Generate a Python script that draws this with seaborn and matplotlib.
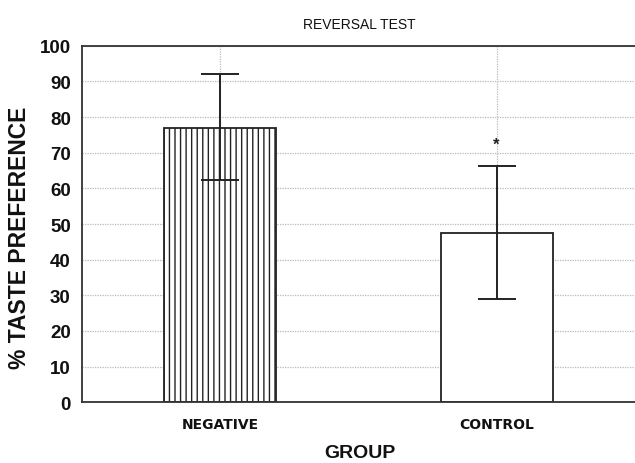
import matplotlib
matplotlib.use("Agg")
import matplotlib.pyplot as plt
import seaborn as sns
import pandas as pd

groups = ["NEGATIVE", "CONTROL"]
means = [77.0, 47.5]
err_low = [62.3, 28.9]
err_high = [92.0, 66.2]
yticks = [0, 10, 20, 30, 40, 50, 60, 70, 80, 90, 100]
star_y = 72.5

sns.set_theme(style="white")
plt.rcParams['font.family'] = ['Liberation Sans', 'DejaVu Sans']
plt.rcParams['hatch.linewidth'] = 1.0

df = pd.DataFrame({"group": groups, "mean": means})

fig = plt.figure(figsize=(6.35, 4.64), dpi=100)
ax = fig.add_axes([0.129, 0.131, 0.875, 0.768])

sns.barplot(data=df, x="group", y="mean", ax=ax, color="white",
            edgecolor="#222222", linewidth=1.3, width=0.405, errorbar=None, zorder=2)
ax.patches[0].set_hatch("|||")

yerr = [[m - l for m, l in zip(means, err_low)], [h - m for m, h in zip(means, err_high)]]
ax.errorbar(x=[0, 1], y=means, yerr=yerr, fmt="none", ecolor="#222222",
            elinewidth=1.4, capsize=14, capthick=1.4, zorder=3)

ax.text(1, star_y, "*", ha="center", va="center", fontsize=12, fontweight="bold", color="#222222")

ax.set_ylim(0, 100)
ax.set_xlim(-0.5, 1.51)
ax.set_yticks(yticks)
ax.grid(True, axis="y", linestyle=(0, (1, 1)), color="#bbbbbb", linewidth=0.9, zorder=0)
ax.grid(True, axis="x", linestyle=(0, (1, 1)), color="#bbbbbb", linewidth=0.9, zorder=0)
ax.set_axisbelow(True)

for s in ["left", "bottom", "top"]:
    ax.spines[s].set_color("#333333")
    ax.spines[s].set_linewidth(1.3)
ax.spines["right"].set_visible(False)

ax.tick_params(axis="y", labelsize=13.5, length=0, pad=8, labelcolor="#111111")
ax.tick_params(axis="x", labelsize=10, length=0, pad=11, labelcolor="#111111")
for lbl in ax.get_yticklabels():
    lbl.set_fontweight("bold")
for lbl in ax.get_xticklabels():
    lbl.set_fontweight("bold")
    lbl.set_family(["DejaVu Sans"])

ax.set_xlabel("GROUP", fontsize=14, fontweight="bold", labelpad=9, color="#111111")
ax.set_ylabel("% TASTE PREFERENCE", fontsize=16.5, fontweight="bold", color="#111111")
ax.yaxis.set_label_coords(-0.092, 0.463)
ax.set_title("REVERSAL TEST", fontsize=10, pad=13, color="#111111")

fig.savefig("out.png", dpi=100)
